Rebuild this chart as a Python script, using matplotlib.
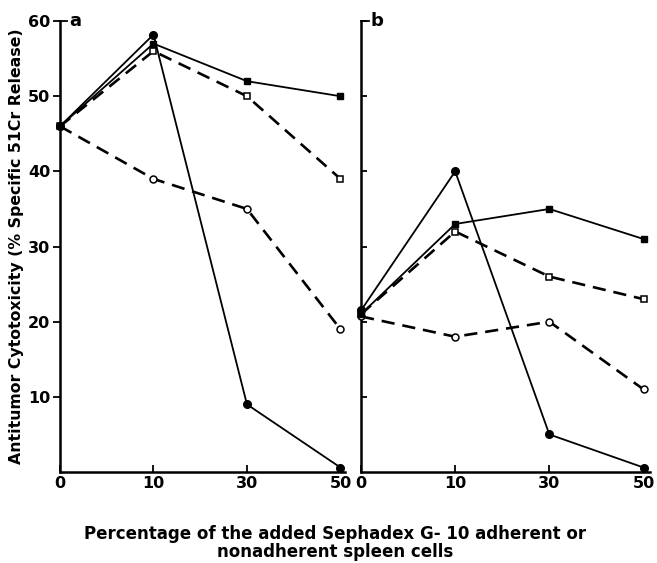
import numpy as np
import matplotlib.pyplot as plt

plt.rcParams['font.family'] = ['DejaVu Sans']
plt.rcParams['font.weight'] = 'bold'

# x categories (% of added cells), equally spaced on the plot
doses = ['0', '10', '30', '50']

# panel a
a_filled_circle = [46, 58.2, 9, 0.6]
a_filled_square = [46, 57, 52, 50]
a_open_square = [46, 56, 50, 39]
a_open_circle = [46, 39, 35, 19]

# panel b
b_filled_circle = [21.5, 40, 5, 0.6]
b_filled_square = [21, 33, 35, 31]
b_open_square = [21, 32, 26, 23]
b_open_circle = [20.7, 18, 20, 11]

fig = plt.figure(figsize=(6.57, 5.63), dpi=100)
ax_a = fig.add_axes([0.0913, 0.1616, 0.434, 0.801])
ax_b = fig.add_axes([0.5495, 0.1616, 0.44, 0.801])

x = np.arange(len(doses))


def draw(ax, fc, fs, osq, oc):
    ax.plot(x, fc, '-', color='black', lw=1.3, marker='o', ms=5.5,
            mfc='black', mec='black', clip_on=False, zorder=4)
    ax.plot(x, fs, '-', color='black', lw=1.3, marker='s', ms=5,
            mfc='black', mec='black', clip_on=False, zorder=4)
    ax.plot(x, osq, '--', color='black', lw=1.9, dashes=(5, 3), marker='s', ms=5,
            mfc='white', mec='black', mew=1.1, clip_on=False, zorder=3)
    ax.plot(x, oc, '--', color='black', lw=1.9, dashes=(5, 3), marker='o', ms=5,
            mfc='white', mec='black', mew=1.1, clip_on=False, zorder=3)
    ax.set_ylim(0, 60)
    ax.spines['top'].set_visible(False)
    ax.spines['right'].set_visible(False)
    ax.spines['left'].set_linewidth(1.8)
    ax.spines['bottom'].set_linewidth(1.8)
    ax.set_xticks(x)
    ax.set_xticklabels(doses, fontsize=11.5, fontweight='bold')
    ax.tick_params(axis='x', direction='in', length=5, width=1.3, pad=3)


draw(ax_a, a_filled_circle, a_filled_square, a_open_square, a_open_circle)
draw(ax_b, b_filled_circle, b_filled_square, b_open_square, b_open_circle)

ax_a.set_xlim(0, 3.05)
ax_b.set_xlim(0, 3.07)

for ax in (ax_a, ax_b):
    ax.set_yticks([10, 20, 30, 40, 50, 60])
    # small inward cap at the top of the axis
    ax.plot([0, 0.08], [60, 60], color='black', lw=1.3, clip_on=False)

ax_a.set_yticklabels(['10', '20', '30', '40', '50', '60'], fontsize=11.5, fontweight='bold')
ax_a.tick_params(axis='y', direction='out', length=5, width=1.3, pad=2)
ax_b.set_yticklabels([])
ax_b.tick_params(axis='y', direction='in', length=4, width=1.3)

ax_a.text(0.1, 60, 'a', fontsize=13, fontweight='bold', va='center', ha='left')
ax_b.text(0.1, 60, 'b', fontsize=13, fontweight='bold', va='center', ha='left')

ax_a.set_ylabel('Antitumor Cytotoxicity (% Specific 51Cr Release)',
                fontsize=11.3, fontweight='bold', labelpad=3)

fig.text(0.51, 0.036, 'Percentage of the added Sephadex G- 10 adherent or\nnonadherent spleen cells',
         ha='center', va='center', fontsize=12, fontweight='bold', linespacing=1.0)

fig.savefig('out.png', dpi=100)
